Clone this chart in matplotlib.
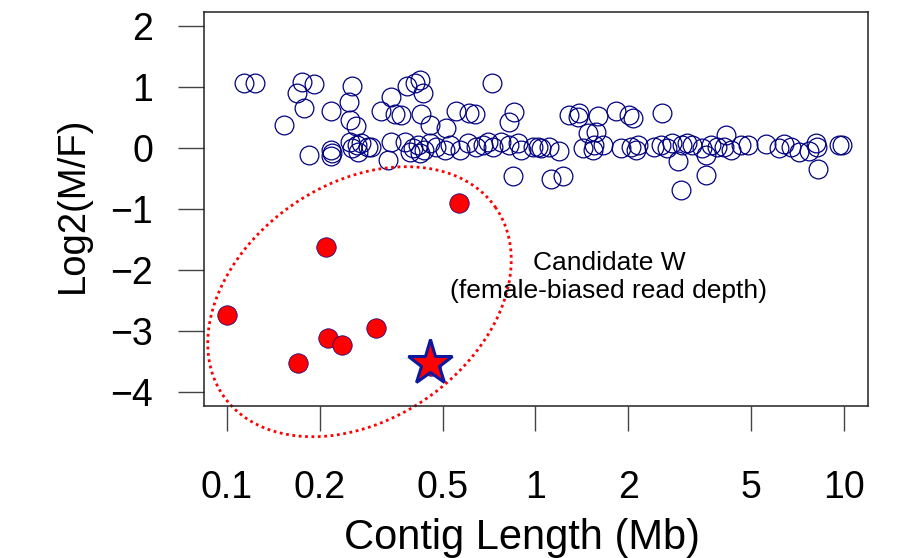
import numpy as np
import matplotlib
matplotlib.use("Agg")
import matplotlib.pyplot as plt

plt.rcParams['font.family'] = ['Liberation Sans', 'DejaVu Sans']

# contigs with normal read depth (open circles)
len_other = [0.114, 0.123, 0.175, 0.192, 0.169, 0.178, 0.254, 0.248, 0.217, 0.153,
             0.251, 0.263, 0.185, 0.218, 0.219, 0.218, 0.250, 0.254, 0.266, 0.273,
             0.287, 0.264,
             0.422, 0.406, 0.383, 0.431, 0.341, 0.724, 0.317, 0.350, 0.367, 0.427,
             0.553, 0.611, 0.639, 0.855, 0.824, 0.454, 0.514,
             0.294, 0.341, 0.379, 0.401, 0.416, 0.437, 0.454, 0.478, 0.508, 0.527,
             0.568, 0.604, 0.643, 0.675, 0.701, 0.728, 0.775, 0.824, 0.877, 0.899,
             0.980, 0.422, 0.391, 0.333, 0.849,
             1.288, 1.387, 1.371, 1.592, 1.825, 2.014, 2.065, 2.571, 1.476, 1.571,
             1.016, 1.042, 1.109, 1.196, 1.422, 1.532, 1.552, 1.652, 1.893, 2.041,
             2.118, 2.144, 2.427, 2.551, 2.680, 2.781, 2.997, 3.111, 3.229, 3.479,
             2.890, 1.125, 1.225, 2.966, 3.565,
             4.14, 3.565, 3.703, 3.89, 4.09, 4.30, 4.63, 4.87, 5.58, 6.17,
             6.40, 6.72, 7.15, 7.70, 8.09, 8.19, 9.63, 9.87, 8.26]
ratio_other = [1.07, 1.07, 1.09, 1.05, 0.91, 0.65, 1.02, 0.75, 0.60, 0.38,
               0.46, 0.36, -0.11, -0.03, -0.09, -0.13, 0.10, 0.00, -0.06, 0.08,
               0.02, 0.05,
               1.11, 1.06, 1.02, 0.90, 0.83, 1.06, 0.60, 0.55, 0.54, 0.55,
               0.60, 0.58, 0.55, 0.59, 0.42, 0.37, 0.32,
               0.02, 0.10, 0.10, 0.00, 0.05, -0.03, 0.08, 0.02, -0.03, 0.05,
               -0.03, 0.08, 0.02, 0.05, 0.10, 0.02, 0.10, 0.05, 0.08, -0.03,
               0.02, -0.09, -0.06, -0.20, -0.46,
               0.54, 0.57, 0.51, 0.53, 0.60, 0.54, 0.50, 0.57, 0.24, 0.27,
               0.02, 0.00, 0.02, -0.05, 0.00, -0.03, 0.05, 0.05, 0.00, 0.02,
               -0.03, 0.05, 0.02, 0.05, 0.00, 0.08, 0.05, 0.08, 0.05, 0.00,
               -0.22, -0.50, -0.46, -0.69, -0.44,
               0.21, -0.11, 0.05, 0.02, 0.02, -0.03, 0.05, 0.05, 0.06, 0.00,
               0.06, 0.02, -0.07, -0.05, 0.08, 0.02, 0.05, 0.05, -0.34]

# candidate W contigs (female-biased)
len_w = [0.100, 0.209, 0.567, 0.170, 0.212, 0.237, 0.305, 0.460]
ratio_w = [-2.74, -1.62, -0.90, -3.52, -3.11, -3.23, -2.95, -3.57]

# highlighted contig
len_star = [0.454]
ratio_star = [-3.52]

xticks = [0.1, 0.2, 0.5, 1, 2, 5, 10]
xticklabels = ["0.1", "0.2", "0.5", "1", "2", "5", "10"]
yticks = [-4, -3, -2, -1, 0, 1, 2]

fig = plt.figure(figsize=(9.17, 5.58), dpi=100)
ax = fig.add_axes([204/917, 1 - 406/558, 664/917, 394/558])

ax.plot(len_other, ratio_other, 'o', ms=13.5, mfc='none', mec='navy', mew=0.9, ls='none')
ax.plot(len_w, ratio_w, 'o', ms=14, mfc='red', mec='navy', mew=0.5, ls='none')
ax.plot(len_star, ratio_star, '*', ms=34, mfc='red', mec='#0a1aa0', mew=2.2, ls='none')

# dotted ellipse around the candidates (drawn in log-x space)
t = np.linspace(0, 2*np.pi, 400)
phi = np.radians(34.5)
a, b = 165.7, 117.8
dx = a*np.cos(t)*np.cos(phi) - b*np.sin(t)*np.sin(phi)
dy = a*np.cos(t)*np.sin(phi) + b*np.sin(t)*np.cos(phi)
ex = 10**(-0.570 + dx/309)
ey = -2.52 + dy/61
ax.plot(ex, ey, color='red', lw=2, ls=(0, (1, 1.3)), clip_on=False)

ax.text(1.73, -2.12, "Candidate W\n(female-biased read depth)", ha='center', va='center',
        fontsize=19, linespacing=1.2)

ax.set_xscale('log')
ax.set_xlim(10**-1.074, 10**1.078)
ax.set_ylim(-4.23, 2.23)
ax.set_xticks(xticks)
ax.set_xticklabels(xticklabels)
ax.minorticks_off()
ax.set_yticks(yticks)
ax.tick_params(axis='x', length=18, width=1, pad=28, labelsize=27, color='#444444')
ax.tick_params(axis='y', length=18.5, width=1, pad=18, labelsize=27, color='#444444')
for s in ax.spines.values():
    s.set_linewidth(1.1)
    s.set_color('#222222')

fig.text(73/917, 1 - 205/558, "Log2(M/F)", rotation=90, ha='center', va='center', fontsize=27.5)
fig.text(522/917, 1 - 549/558, "Contig Length (Mb)", ha='center', va='baseline', fontsize=30)

fig.savefig("out.png", dpi=100)
